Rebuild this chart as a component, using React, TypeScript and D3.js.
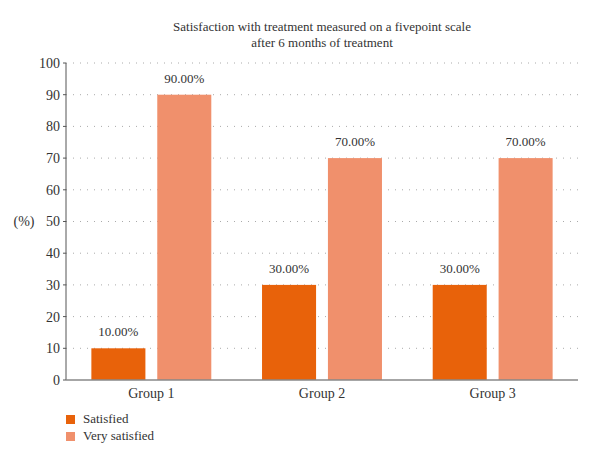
import React from "react";
import * as d3 from "d3";

const groups = ["Group 1", "Group 2", "Group 3"];
const seriesNames = ["Satisfied", "Very satisfied"];
const satisfied = [10, 30, 30];
const verySatisfied = [90, 70, 70];
const yTicks = [0, 10, 20, 30, 40, 50, 60, 70, 80, 90, 100];
const colors = ["#E8620A", "#F0906C"];
const titleLines = ["Satisfaction with treatment measured on a fivepoint scale", "after 6 months of treatment"];

const W = 600, H = 463;
const left = 66, right = 578, top = 63, bottom = 380;
const FONT = "Liberation Serif, Times New Roman, serif";

export default function App() {
  const x0 = d3.scaleBand().domain(groups).range([left, right]).padding(0);
  const x1 = d3.scaleBand().domain(seriesNames).range([0, x0.bandwidth()]).paddingInner(0.18).paddingOuter(0.385);
  const y = d3.scaleLinear().domain([0, 100]).range([bottom, top]);
  const values = [satisfied, verySatisfied];
  const ts = { fontFamily: FONT };

  return (
    <svg width={W} height={H} style={{ position: "absolute", left: 0, top: 0, background: "#fff", fontFamily: FONT }}>
      {titleLines.map((t, i) => (
        <text key={i} x={322} y={31 + i * 16} textAnchor="middle" fontSize={13} fill="#333" style={ts}>{t}</text>
      ))}
      {yTicks.filter(t => t > 0).map(t => (
        <line key={t} x1={left} x2={right} y1={y(t)} y2={y(t)} stroke="#aaa" strokeWidth={1} strokeDasharray="1,6" />
      ))}
      {yTicks.map(t => (
        <g key={t}>
          <line x1={left - 3} x2={left} y1={y(t)} y2={y(t)} stroke="#555" />
          <text x={left - 6} y={y(t)} dy="0.35em" textAnchor="end" fontSize={14} fill="#333" style={ts}>{t}</text>
        </g>
      ))}
      <text x={24} y={y(50)} dy="0.35em" textAnchor="middle" fontSize={14} fill="#333" style={ts}>(%)</text>
      {groups.map((g, gi) => (
        <g key={g}>
          {seriesNames.map((s, si) => {
            const v = values[si][gi];
            const bx = (x0(g) as number) + (x1(s) as number);
            return (
              <g key={s}>
                <rect x={bx} y={y(v)} width={x1.bandwidth()} height={bottom - y(v)} fill={colors[si]} />
                <text x={bx + x1.bandwidth() / 2} y={y(v) - 12} textAnchor="middle" fontSize={13} fill="#333" style={ts}>{v.toFixed(2)}%</text>
              </g>
            );
          })}
          <text x={(x0(g) as number) + x0.bandwidth() / 2} y={bottom + 18} textAnchor="middle" fontSize={14} fill="#333" style={ts}>{g}</text>
        </g>
      ))}
      <line x1={left} x2={left} y1={top} y2={bottom} stroke="#555" strokeWidth={1} />
      <line x1={left} x2={right} y1={bottom} y2={bottom} stroke="#888" strokeWidth={1.5} />
      {seriesNames.map((s, i) => (
        <g key={s}>
          <rect x={66} y={415 + i * 17} width={9} height={9} fill={colors[i]} />
          <text x={83} y={423 + i * 17} fontSize={13} fill="#333" style={ts}>{s}</text>
        </g>
      ))}
    </svg>
  );
}
